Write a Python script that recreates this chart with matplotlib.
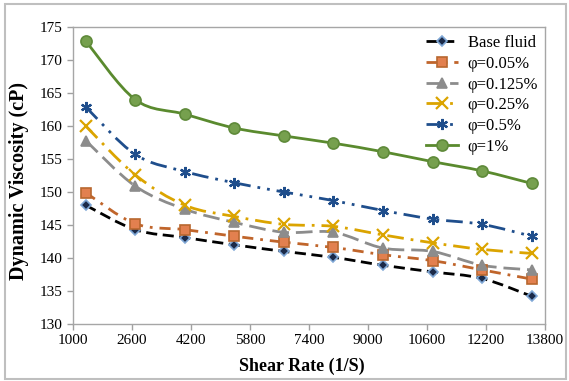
import matplotlib
matplotlib.use("Agg")
import matplotlib.pyplot as plt
from matplotlib.path import Path
from matplotlib.patches import PathPatch, Rectangle
from matplotlib.lines import Line2D

shear_rate = [1344, 2688, 4032, 5376, 6720, 8064, 9408, 10752, 12096, 13440]
base_fluid = [148.0, 144.3, 143.1, 142.0, 141.0, 140.1, 138.9, 137.9, 136.9, 134.2]
phi_005 = [149.9, 145.2, 144.3, 143.3, 142.4, 141.6, 140.5, 139.6, 138.2, 136.8]
phi_0125 = [157.8, 150.9, 147.4, 145.4, 143.9, 143.9, 141.5, 141.0, 138.9, 138.2]
phi_025 = [160.0, 152.6, 148.0, 146.3, 145.1, 144.8, 143.5, 142.3, 141.3, 140.7]
phi_05 = [162.9, 155.7, 153.1, 151.4, 150.0, 148.7, 147.2, 145.9, 145.1, 143.3]
phi_1 = [172.9, 164.0, 161.8, 159.7, 158.5, 157.4, 156.1, 154.6, 153.2, 151.3]
labels = ["Base fluid", "φ=0.05%", "φ=0.125%", "φ=0.25%", "φ=0.5%", "φ=1%"]

plt.rcParams["font.family"] = ["Liberation Serif", "DejaVu Serif"]

styles = [
    dict(color="#000000", ls=(0, (4, 2)), marker="D", ms=5, mfc="#1b2a49", mec="#7fa7d6"),
    dict(color="#c0652b", ls=(0, (4, 2.5, 1, 2.5)), marker="s", ms=7, mfc="#e2804f", mec="#b8672f"),
    dict(color="#8c8c8c", ls=(0, (6, 2.5)), marker="^", ms=7, mfc="#8c8c8c", mec="#8c8c8c"),
    dict(color="#dba400", ls=(0, (6, 2.5, 1, 2.5)), marker="x", ms=8, mfc="none", mec="#dba400"),
    dict(color="#1f4e8c", ls=(0, (6, 2.5, 1, 2.5, 1, 2.5)), marker=(6, 2, 0), ms=8, mfc="none", mec="#1f4e8c"),
    dict(color="#5a8a2e", ls="-", marker="o", ms=8, mfc="#76a04e", mec="#5f8a3a"),
]


def smooth_path(xs, ys):
    # excel-like smoothed line: bezier through the points
    pts = list(zip(xs, ys))
    verts = [pts[0]]
    codes = [Path.MOVETO]
    n = len(pts)
    for i in range(n - 1):
        p0 = pts[i - 1] if i > 0 else pts[i]
        p1 = pts[i]
        p2 = pts[i + 1]
        p3 = pts[i + 2] if i + 2 < n else pts[i + 1]
        c1 = (p1[0] + (p2[0] - p0[0]) / 6, p1[1] + (p2[1] - p0[1]) / 6)
        c2 = (p2[0] - (p3[0] - p1[0]) / 6, p2[1] - (p3[1] - p1[1]) / 6)
        verts += [c1, c2, p2]
        codes += [Path.CURVE4] * 3
    return Path(verts, codes)


fig = plt.figure(figsize=(5.69, 3.81), dpi=100)
ax = fig.add_axes([0.1283, 0.1496, 0.8295, 0.7794])

series = [base_fluid, phi_005, phi_0125, phi_025, phi_05, phi_1]
handles = []
lw = 2.0
for ys, st, lab in zip(series, styles, labels):
    patch = PathPatch(smooth_path(shear_rate, ys), fill=False, edgecolor=st["color"],
                      lw=lw, linestyle=st["ls"], zorder=2)
    ax.add_patch(patch)
    mew = 1.2 if st["mfc"] != "none" else 1.6
    ax.plot(shear_rate, ys, linestyle="none", marker=st["marker"], ms=st["ms"],
            mfc=st["mfc"], mec=st["mec"], mew=mew, zorder=3)
    handles.append(Line2D([], [], color=st["color"], lw=lw, linestyle=st["ls"],
                          marker=st["marker"], ms=st["ms"], mfc=st["mfc"], mec=st["mec"],
                          mew=mew))

ax.set_xlim(1000, 13800)
ax.set_ylim(130, 175)
ax.set_xticks(range(1000, 13801, 1600))
ax.set_yticks(range(130, 176, 5))
ax.tick_params(labelsize=11, color="#a0a0a0", length=4, width=1)
for s in ax.spines.values():
    s.set_color("#a6a6a6")
    s.set_linewidth(1.0)

ax.set_xlabel("Shear Rate (1/S)", fontsize=13, fontweight="bold")
ax.set_ylabel("Dynamic Viscosity (cP)", fontsize=14.5, fontweight="bold")
ax.xaxis.set_label_coords(0.484, -0.113)
ax.yaxis.set_label_coords(-0.093, 0.48)

ax.legend(handles=handles, labels=labels, loc="upper right", frameon=False,
          fontsize=12, handlelength=1.9, handletextpad=0.6, labelspacing=0.28,
          borderaxespad=0.0, bbox_to_anchor=(1.0, 0.995))

fig.patches.append(Rectangle((5 / 569, 2 / 381), 561 / 569, 375 / 381, transform=fig.transFigure,
                             fill=False, edgecolor="#bfbfbf", lw=1.5))

fig.savefig("out.png", dpi=100)
